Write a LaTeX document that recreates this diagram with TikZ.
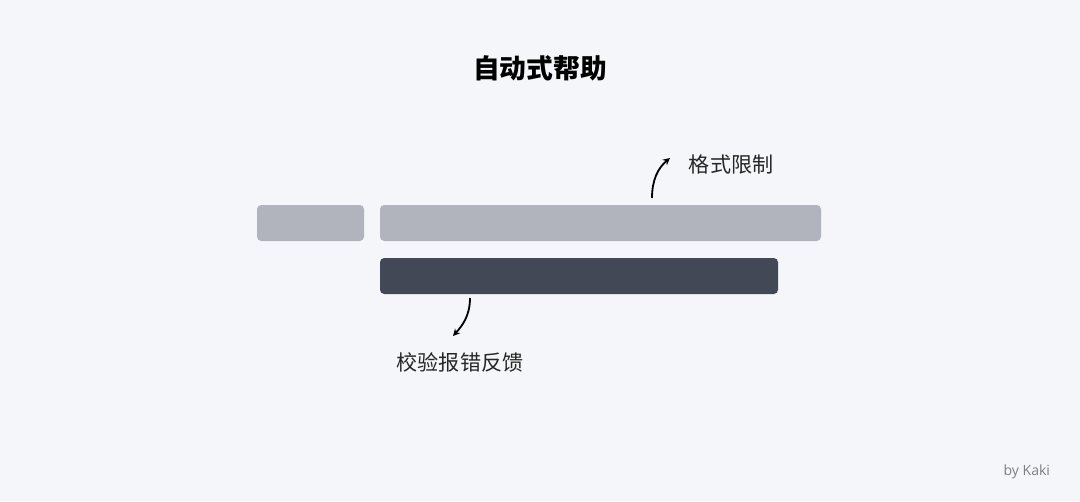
\documentclass[tikz,border=0pt]{standalone}
\usepackage{fontspec}
\newfontfamily\cjk{Noto Sans CJK SC}
\setmainfont{Open Sans}
\usetikzlibrary{arrows.meta}
\definecolor{bgcol}{HTML}{F5F6FA}
\definecolor{lightbar}{HTML}{B1B4BD}
\definecolor{darkbar}{HTML}{434856}
\begin{document}
\begin{tikzpicture}[
			x=0.025cm, y=-0.025cm,
			bar/.style={rounded corners=3pt, inner sep=0pt},
			note/.style={font=\cjk\fontsize{15}{15}\selectfont, text=black!85},
			hand/.style={line width=1.3pt, -{Stealth[length=5pt,width=5pt]}}
		]
		% Background
		\fill[bgcol] (0,0) rectangle (1080,501);
		\useasboundingbox (0,0) rectangle (1080,501);

		% Title
		\node[font=\cjk\bfseries\fontsize{19}{19}\selectfont] (title) at (540,68) {自动式帮助};

		% Bars
		\fill[lightbar, bar] (257,205) rectangle (364,241);
		\fill[lightbar, bar] (380,205) rectangle (821,241);
		\fill[darkbar, bar] (380,258) rectangle (778,294);

		% Notes
		\node[note, anchor=west] (limit) at (684,164) {格式限制};
		\node[note] (feedback) at (460,362) {校验报错反馈};
		\coordinate (limitstart) at (652,198);
		\coordinate (fbstart) at (470,298);

		% Arrows
		\draw[hand] (limitstart) .. controls (652,180) and (658,168) .. (670,158);
		\draw[hand] (fbstart) .. controls (470,316) and (462,326) .. (453,336);

		% Credit
		\node[font=\fontsize{10}{10}\selectfont, text=gray, anchor=east] (credit) at (1055,472) {by Kaki};
	\end{tikzpicture}
\end{document}
